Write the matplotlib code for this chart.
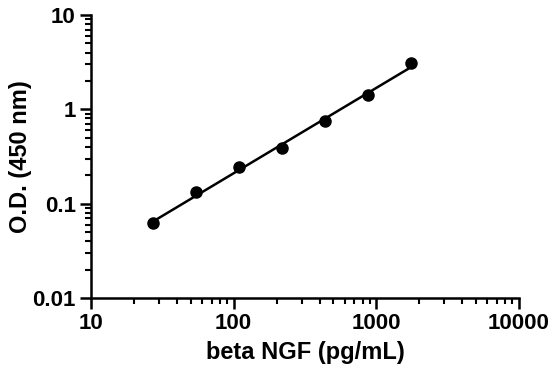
import numpy as np
import matplotlib
matplotlib.use("Agg")
import matplotlib.pyplot as plt
from matplotlib.ticker import LogLocator, FixedLocator, FixedFormatter

conc = [27.3, 54.7, 109.4, 218.8, 437.5, 875, 1750]
od = [0.062, 0.134, 0.243, 0.386, 0.757, 1.42, 3.07]
xticks = [10, 100, 1000, 10000]
xticklabels = ["10", "100", "1000", "10000"]
yticks = [0.01, 0.1, 1, 10]
yticklabels = ["0.01", "0.1", "1", "10"]

plt.rcParams['font.family'] = ['Liberation Sans', 'DejaVu Sans']
plt.rcParams['font.weight'] = 'bold'

fig = plt.figure(figsize=(5.53, 3.73), dpi=100)
ax = fig.add_axes([91/553, 1-298/373, (519-91)/553, (298-15)/373])

lx = np.log10(conc)
ly = np.log10(od)
p = np.polyfit(lx, ly, 1)
fx = np.linspace(lx[0], lx[-1], 50)
ax.plot(10**fx, 10**np.polyval(p, fx), color='black', lw=1.8, zorder=2)
ax.plot(conc, od, 'o', color='black', ms=8, zorder=3)

ax.set_xscale('log')
ax.set_yscale('log')
ax.set_xlim(10, 10000)
ax.set_ylim(0.01, 10)
ax.xaxis.set_major_locator(FixedLocator(xticks))
ax.xaxis.set_major_formatter(FixedFormatter(xticklabels))
ax.yaxis.set_major_locator(FixedLocator(yticks))
ax.yaxis.set_major_formatter(FixedFormatter(yticklabels))
ax.xaxis.set_minor_locator(LogLocator(base=10, subs=np.arange(2, 10)))
ax.yaxis.set_minor_locator(LogLocator(base=10, subs=np.arange(2, 10)))
ax.xaxis.set_minor_formatter(plt.NullFormatter())
ax.yaxis.set_minor_formatter(plt.NullFormatter())

for s in ['top', 'right']:
    ax.spines[s].set_visible(False)
for s in ['left', 'bottom']:
    ax.spines[s].set_linewidth(1.8)

ax.tick_params(which='major', direction='out', length=8, width=1.8, labelsize=16, pad=3)
ax.tick_params(axis='y', which='major', pad=3)
ax.tick_params(which='minor', direction='out', length=4, width=1.5)
for lab in ax.get_xticklabels() + ax.get_yticklabels():
    lab.set_fontweight('bold')

ax.set_xlabel('beta NGF (pg/mL)', fontsize=17, fontweight='bold', labelpad=5)
ax.set_ylabel('O.D. (450 nm)', fontsize=17, fontweight='bold')
ax.yaxis.set_label_coords(-0.138, 0.5)

fig.savefig('out.png', dpi=100)
